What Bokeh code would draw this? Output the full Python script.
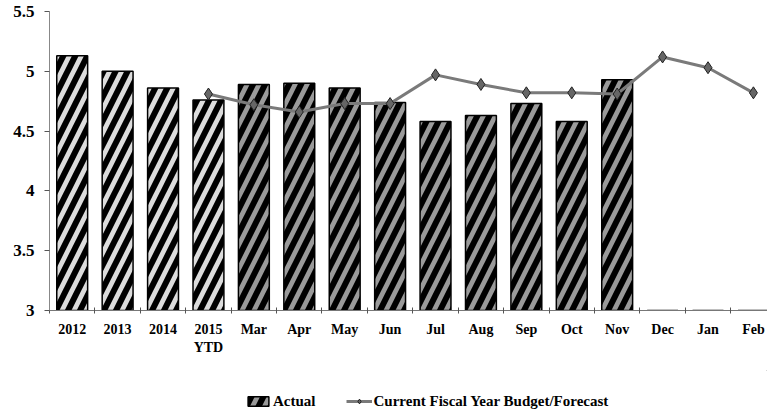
import numpy as np
from bokeh.plotting import figure
from bokeh.layouts import column
from bokeh.models import (ColumnDataSource, Range1d, FixedTicker, Legend, LegendItem)
from bokeh.embed import file_html
from bokeh.resources import INLINE

# ---- data ----
categories = ["2012", "2013", "2014", "2015\nYTD", "Mar", "Apr", "May", "Jun",
              "Jul", "Aug", "Sep", "Oct", "Nov", "Dec", "Jan", "Feb"]
actual = [5.13, 5.00, 4.86, 4.76, 4.89, 4.90, 4.86, 4.74,
          4.58, 4.63, 4.73, 4.58, 4.93, 0.0, 0.0, 0.0]
budget_forecast = [None, None, None, 4.81, 4.72, 4.66, 4.73, 4.73,
                   4.97, 4.89, 4.82, 4.82, 4.81, 5.12, 5.03, 4.82]
y_ticks = [3, 3.5, 4, 4.5, 5, 5.5]
y_tick_labels = ["3", "3.5", "4", "4.5", "5", "5.5"]
period_kind = ["year"] * 4 + ["month"] * 12
legend_labels = ["Actual", "Current Fiscal Year Budget/Forecast"]

Y_MIN, Y_MAX = 3, 5.5
FONT = "Liberation Serif"
YEAR_FILL, MONTH_FILL = "#dcdcdc", "#9a9a9a"
BAR_STYLE = dict(line_color="black", line_width=1.5, hatch_pattern="/",
                 hatch_color="black", hatch_weight=6, hatch_scale=24)
LINE_STYLE = dict(line_color="#7a7a7a", line_width=3)
PT_STYLE = dict(marker="diamond", size=12, fill_color="#666666",
                line_color="#222222", line_width=1)

x = np.arange(len(categories))
act = np.array(actual, dtype=float)
bar_top = np.clip(act, Y_MIN, None)
fill = [YEAR_FILL if k == "year" else MONTH_FILL for k in period_kind]

bars = ColumnDataSource(dict(x=x, top=bar_top, fill=fill))
bx = [i for i, v in zip(x, budget_forecast) if v is not None]
by = [v for v in budget_forecast if v is not None]
line_src = ColumnDataSource(dict(x=bx, y=by))

p = figure(width=767, height=370, output_backend="svg", toolbar_location=None,
           x_range=Range1d(-0.5, 15.31), y_range=Range1d(Y_MIN, Y_MAX),
           min_border_left=49, min_border_right=0, min_border_top=11,
           min_border_bottom=60)
p.outline_line_color = None
p.xgrid.visible = False
p.ygrid.visible = False

p.vbar(x="x", top="top", bottom=Y_MIN, width=0.68, source=bars,
       fill_color="fill", **BAR_STYLE)
p.line("x", "y", source=line_src, **LINE_STYLE)
p.scatter("x", "y", source=line_src, **PT_STYLE)

# x axis
xa = p.xaxis[0]
xa.ticker = FixedTicker(ticks=list(range(len(categories))),
                        minor_ticks=[i - 0.5 for i in range(len(categories) + 1)])
xa.major_label_overrides = {i: c for i, c in enumerate(categories)}
xa.major_tick_in = 0
xa.major_tick_out = 0
xa.minor_tick_in = 3
xa.minor_tick_out = 3
xa.minor_tick_line_color = "#555555"
xa.axis_line_color = "#777777"
xa.major_label_text_font = FONT
xa.major_label_text_font_style = "bold"
xa.major_label_text_font_size = "14px"
xa.major_label_text_color = "black"
xa.major_label_standoff = 8

# y axis
ya = p.yaxis[0]
ya.ticker = FixedTicker(ticks=y_ticks, minor_ticks=[])
ya.major_label_overrides = {t: l for t, l in zip(y_ticks, y_tick_labels)}
ya.major_tick_in = 0
ya.major_tick_out = 5
ya.major_tick_line_color = "#555555"
ya.axis_line_color = "#888888"
ya.major_label_text_font = FONT
ya.major_label_text_font_style = "bold"
ya.major_label_text_font_size = "17px"
ya.major_label_text_color = "black"
ya.major_label_standoff = 10

# legend strip below the chart (proxy renderers lie outside its visible range)
lg = figure(width=767, height=45, output_backend="svg", toolbar_location=None,
            x_range=Range1d(0, 1), y_range=Range1d(0, 1),
            min_border=0)
lg.axis.visible = False
lg.grid.visible = False
lg.outline_line_color = None
proxy = ColumnDataSource(dict(x=[5, 6], y=[5, 6], top=[6, 7]))
lr_bar = lg.vbar(x="x", top="top", bottom=5, width=0.1, source=proxy,
                 fill_color=MONTH_FILL, **BAR_STYLE)
lr_line = lg.line("x", "y", source=proxy, **LINE_STYLE)
lr_pts = lg.scatter("x", "y", source=proxy, **PT_STYLE)

legend = Legend(items=[LegendItem(label=legend_labels[0], renderers=[lr_bar]),
                       LegendItem(label=legend_labels[1],
                                  renderers=[lr_line, lr_pts])],
                orientation="horizontal", location=(196, 4),
                padding=0, margin=0, spacing=30, label_standoff=2,
                glyph_width=26, glyph_height=12, label_height=20,
                border_line_color=None, background_fill_alpha=0,
                label_text_font=FONT, label_text_font_style="bold",
                label_text_font_size="15px", label_text_color="black")
lg.add_layout(legend, "center")

layout = column(p, lg, spacing=0)
open("out.html", "w").write(file_html(layout, INLINE))
